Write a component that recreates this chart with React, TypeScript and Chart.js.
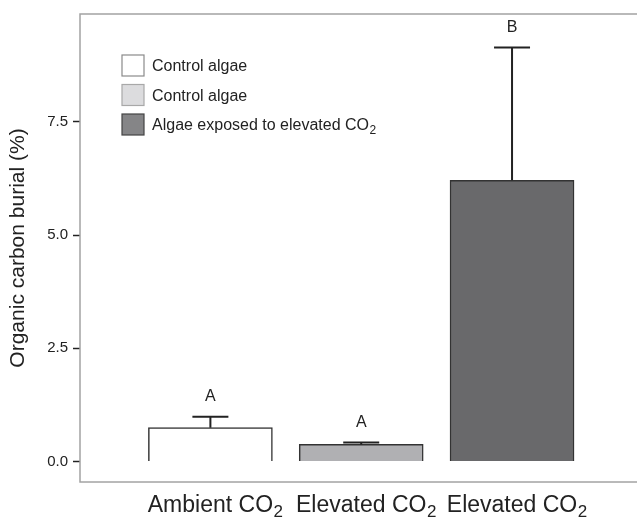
import React, { useEffect, useRef } from 'react';
import { Chart, registerables } from 'chart.js';

Chart.register(...registerables);

const FONT = '"Liberation Sans", Arial, Helvetica, sans-serif';

// Data
const categoryMain = ['Ambient CO', 'Elevated CO', 'Elevated CO'];
const categorySub = ['2', '2', '2'];
const means = [0.75, 0.38, 6.21];
const upperError = [0.99, 0.42, 9.14];
const letters = ['A', 'A', 'B'];
const yTicks = [0, 2.5, 5, 7.5];
const barColors = ['#ffffff', '#b0b0b3', '#69696b'];
const legendMain = ['Control algae', 'Control algae', 'Algae exposed to elevated CO'];
const legendSub = ['', '', '2'];
const legendFill = ['#ffffff', '#dcdcde', '#858587'];
const legendBorder = ['#8a8a8a', '#a8a8a8', '#444444'];

const xPositions = categoryMain.map((_, i) => i + 1);

function drawWithSub(ctx: CanvasRenderingContext2D, main: string, sub: string, x: number, y: number, size: number, subSize: number, center: boolean) {
  ctx.font = `${size}px ${FONT}`;
  const w = ctx.measureText(main).width;
  const start = center ? x - w / 2 : x;
  ctx.textAlign = 'left';
  ctx.textBaseline = 'alphabetic';
  ctx.fillText(main, start, y);
  if (sub) {
    ctx.font = `${subSize}px ${FONT}`;
    ctx.fillText(sub, start + w + 0.5, y + size * 0.22);
  }
}

const overlay = {
  id: 'overlay',
  beforeDatasetsDraw(chart: any) {
    const { ctx, chartArea } = chart;
    ctx.save();
    ctx.strokeStyle = '#a3a3a3';
    ctx.lineWidth = 1.5;
    ctx.strokeRect(chartArea.left, chartArea.top, chartArea.right - chartArea.left, chartArea.bottom - chartArea.top);
    ctx.restore();
  },
  afterDatasetsDraw(chart: any) {
    const { ctx, chartArea, scales } = chart;
    const xs = scales.x;
    const ys = scales.y;
    ctx.save();
    // error bars
    ctx.strokeStyle = '#222';
    ctx.lineWidth = 2;
    xPositions.forEach((p, i) => {
      const x = xs.getPixelForValue(p);
      const y0 = ys.getPixelForValue(means[i]);
      const y1 = ys.getPixelForValue(upperError[i]);
      ctx.beginPath();
      ctx.moveTo(x, y0);
      ctx.lineTo(x, y1);
      ctx.moveTo(x - 18, y1);
      ctx.lineTo(x + 18, y1);
      ctx.stroke();
      ctx.fillStyle = '#222';
      ctx.font = `16px ${FONT}`;
      ctx.textAlign = 'center';
      ctx.textBaseline = 'alphabetic';
      ctx.fillText(letters[i], x, y1 - 16);
    });
    // x labels
    ctx.fillStyle = '#222';
    xPositions.forEach((p, i) => {
      const x = xs.getPixelForValue(p);
      drawWithSub(ctx, categoryMain[i], categorySub[i], x, chartArea.bottom + 30, 23, 17, true);
    });
    // legend
    const lx = chartArea.left + 42;
    const ly = chartArea.top + 41;
    legendMain.forEach((t, i) => {
      const top = ly + i * 29.5;
      ctx.fillStyle = legendFill[i];
      ctx.fillRect(lx, top, 22, 21);
      ctx.strokeStyle = legendBorder[i];
      ctx.lineWidth = 1.2;
      ctx.strokeRect(lx, top, 22, 21);
      ctx.fillStyle = '#222';
      drawWithSub(ctx, t, legendSub[i], lx + 30, top + 16, 16, 12, false);
    });
    ctx.restore();
  },
};

export default function App() {
  const ref = useRef<HTMLCanvasElement>(null);
  useEffect(() => {
    const canvas = ref.current!;
    const chart = new Chart(canvas, {
      type: 'bar',
      data: {
        datasets: [
          {
            data: xPositions.map((x, i) => ({ x, y: means[i] })),
            backgroundColor: barColors,
            borderColor: '#333',
            borderWidth: 1.5,
            barThickness: 124,
          } as any,
        ],
      },
      options: {
        responsive: false,
        animation: false,
        layout: { padding: { top: 10, right: 5, left: 0, bottom: 0 } },
        plugins: { legend: { display: false }, tooltip: { enabled: false } },
        scales: {
          x: {
            type: 'linear',
            min: 0.403,
            max: 3.614,
            ticks: { display: false },
            grid: { display: false },
            border: { display: false },
            afterFit: (s: any) => {
              s.height = 36;
            },
          },
          y: {
            type: 'linear',
            min: -0.45,
            max: 9.88,
            afterBuildTicks: (s: any) => {
              s.ticks = yTicks.map((v) => ({ value: v }));
            },
            ticks: {
              font: { family: FONT, size: 15 },
              color: '#222',
              padding: 5,
              callback: (v: any) => Number(v).toFixed(1),
            },
            grid: { drawOnChartArea: false, drawTicks: true, tickLength: 7, tickColor: '#222', tickWidth: 1.5 } as any,
            border: { display: false },
            title: {
              display: true,
              text: 'Organic carbon burial (%)',
              font: { family: FONT, size: 21 },
              color: '#222',
              padding: { top: 6, bottom: 0 },
            },
            afterFit: (s: any) => {
              s.width = 80;
            },
          },
        },
      } as any,
      plugins: [overlay],
    });
    return () => chart.destroy();
  }, []);
  return (
    <div style={{ position: 'fixed', left: 0, top: 0, width: 637, height: 518, overflow: 'hidden', background: '#fff' }}>
      <canvas ref={ref} width={650} height={518} style={{ display: 'block' }} />
    </div>
  );
}
